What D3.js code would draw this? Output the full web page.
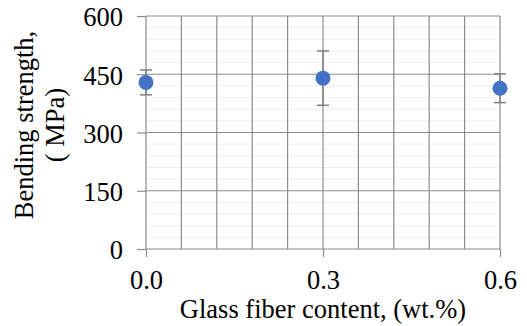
<!DOCTYPE html>
<html>
<head>
<meta charset="utf-8">
<script src="https://cdn.jsdelivr.net/npm/d3@7"></script>
<style>
  body { margin: 0; background: #fff; }
  svg text { font-family: "Liberation Serif", "Times New Roman", serif; fill: #000; }
</style>
</head>
<body>
<div id="chart"></div>
<script>
var fiberContent = [0.0, 0.3, 0.6];
var strength = [429, 440, 414];
var strengthErr = [32, 70, 37];
var yTicks = [0, 150, 300, 450, 600];
var xTicks = [0.0, 0.3, 0.6];
var xGrid = [0.06, 0.12, 0.18, 0.24, 0.3, 0.36, 0.42, 0.48, 0.54, 0.6];

var width = 527, height = 326;
var margin = {left: 146, right: 27, top: 16, bottom: 77};
var fontSize = '26.5px';

var svg = d3.select('#chart').append('svg')
  .attr('width', width)
  .attr('height', height);

var x = d3.scaleLinear().domain([0, 0.6]).range([margin.left, width - margin.right]);
var y = d3.scaleLinear().domain([0, 600]).range([height - margin.bottom, margin.top]);

//minor horizontal gridlines
svg.append('g')
  .selectAll('line')
  .data(d3.range(0, 600, 30).filter(function(v){ return v % 150 != 0; }))
  .enter().append('line')
    .attr('x1', x(0)).attr('x2', x(0.6))
    .attr('y1', function(d){ return y(d); })
    .attr('y2', function(d){ return y(d); })
    .attr('stroke', '#efefef')
    .attr('stroke-width', 1);

//major horizontal gridlines
svg.append('g')
  .selectAll('line')
  .data(yTicks.slice(1))
  .enter().append('line')
    .attr('x1', x(0)).attr('x2', x(0.6))
    .attr('y1', function(d){ return y(d); })
    .attr('y2', function(d){ return y(d); })
    .attr('stroke', '#8c8c8c')
    .attr('stroke-width', 1.2);

//vertical gridlines
svg.append('g')
  .selectAll('line')
  .data(xGrid)
  .enter().append('line')
    .attr('x1', function(d){ return x(d); })
    .attr('x2', function(d){ return x(d); })
    .attr('y1', y(0)).attr('y2', y(600))
    .attr('stroke', '#8c8c8c')
    .attr('stroke-width', 1.2);

//axes
var yAxis = d3.axisLeft(y).tickValues(yTicks).tickSize(9).tickPadding(14);
var xAxis = d3.axisBottom(x).tickValues(xTicks).tickSize(8).tickPadding(13.5)
  .tickFormat(d3.format('.1f'));

var gy = svg.append('g').attr('transform', 'translate(' + x(0) + ',0)').call(yAxis);
var gx = svg.append('g').attr('transform', 'translate(0,' + y(0) + ')').call(xAxis);

[gx, gy].forEach(function(g){
  g.attr('font-size', null).attr('font-family', null);
  g.select('.domain').attr('stroke', '#8c8c8c').attr('stroke-width', 1.2);
  g.selectAll('.tick line').attr('stroke', '#8c8c8c').attr('stroke-width', 1.2);
  g.selectAll('.tick text').style('font-size', fontSize).attr('fill', '#000');
});
gy.selectAll('.tick text').attr('dy', '0.37em');
gy.select('.domain').attr('d', 'M0,' + y(600) + 'V' + y(0));
gx.select('.domain').attr('d', 'M' + x(0) + ',0H' + x(0.6));

//error bars
var eb = svg.append('g').selectAll('g')
  .data(fiberContent)
  .enter().append('g');
eb.append('line')
  .attr('x1', function(d){ return x(d); })
  .attr('x2', function(d){ return x(d); })
  .attr('y1', function(d, i){ return y(strength[i] + strengthErr[i]); })
  .attr('y2', function(d, i){ return y(strength[i] - strengthErr[i]); })
  .attr('stroke', '#808080').attr('stroke-width', 1.5);
[1, -1].forEach(function(s){
  eb.append('line')
    .attr('x1', function(d){ return x(d) - 6; })
    .attr('x2', function(d){ return x(d) + 6; })
    .attr('y1', function(d, i){ return y(strength[i] + s * strengthErr[i]); })
    .attr('y2', function(d, i){ return y(strength[i] + s * strengthErr[i]); })
    .attr('stroke', '#808080').attr('stroke-width', 1.5);
});

//points
svg.append('g').selectAll('circle')
  .data(fiberContent)
  .enter().append('circle')
    .attr('cx', function(d){ return x(d); })
    .attr('cy', function(d, i){ return y(strength[i]); })
    .attr('r', 7.5)
    .attr('fill', '#4472C4');

//axis titles
svg.append('text')
  .attr('x', (x(0) + x(0.6)) / 2)
  .attr('y', 318)
  .attr('text-anchor', 'middle')
  .style('font-size', fontSize)
  .text('Glass fiber content, (wt.%)');

var yt = svg.append('text')
  .attr('transform', 'translate(33,125) rotate(-90)')
  .attr('text-anchor', 'middle')
  .style('font-size', fontSize);
yt.append('tspan').attr('x', 0).attr('dy', 0).text('Bending strength,');
yt.append('tspan').attr('x', 0).attr('dy', 31).text('( MPa)');
</script>
</body>
</html>
